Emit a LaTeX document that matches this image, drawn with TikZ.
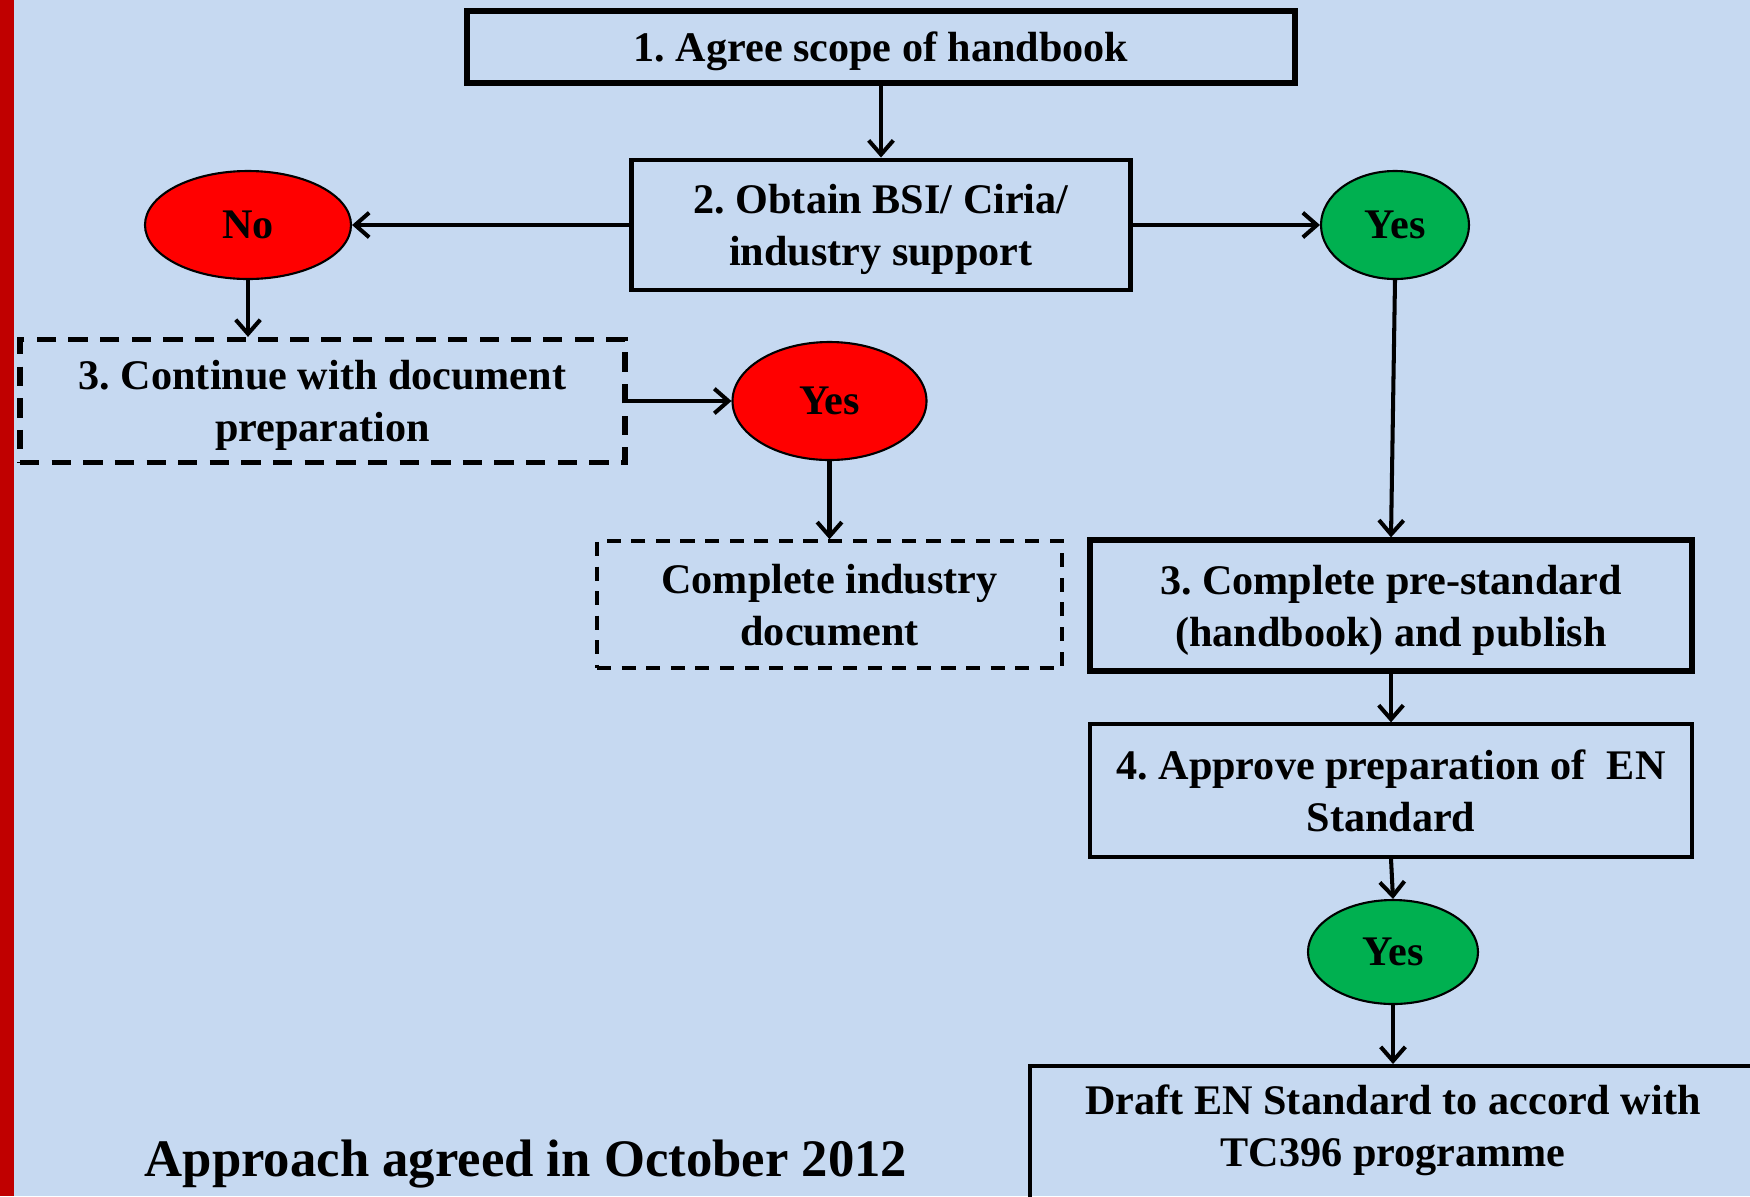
\documentclass[tikz,border=0pt]{standalone}
\usepackage{fontspec}
\setmainfont{Liberation Serif}
\frenchspacing
\usetikzlibrary{arrows.meta,positioning,shapes.geometric}
\definecolor{hbback}{HTML}{C6D9F1}
\definecolor{hbbar}{HTML}{C00000}
\definecolor{hbred}{HTML}{FF0000}
\definecolor{hbgreen}{HTML}{00B050}

\begin{document}
\begin{tikzpicture}[x=0.2mm, y=-0.2mm,
  stepbox/.style={draw=black, line width=3pt, align=center, inner sep=0pt, text depth=0pt,
                  font=\bfseries\fontsize{24}{29.6}\selectfont},
  thinbox/.style={stepbox, line width=1.9pt},
  dashbox/.style={stepbox, dash pattern=on 11pt off 7pt},
  thindash/.style={stepbox, line width=2pt, dash pattern=on 8pt off 6pt},
  answer/.style={ellipse, draw=black, line width=1.2pt, inner sep=0pt,
                 font=\bfseries\fontsize{24}{29.6}\selectfont},
  arr/.style={-{Straight Barb[length=8pt,width=14pt]}, line width=2.3pt},
]

% Page background and red margin bar
\fill[hbback] (0,0) rectangle (1750,1196);
\fill[hbbar] (0,0) rectangle (14,1196);
\useasboundingbox (0,0) rectangle (1750,1196);

% Steps
\node[stepbox, minimum width=165.6mm, minimum height=14.4mm] (scope) at (881,47) {1. Agree scope of handbook};
\node[stepbox, minimum width=99.8mm, minimum height=26mm, line width=2.8pt] (support) at (881,225) {2. Obtain BSI/ Ciria/\\industry support};
\node[dashbox, minimum width=121mm, minimum height=24.6mm] (cont) at (322.5,401) {3. Continue with document\\preparation};
\node[thindash, minimum width=93mm, minimum height=25.4mm] (indus) at (829.5,604.5) {Complete industry\\document};
\node[stepbox, minimum width=120.4mm, minimum height=26.2mm] (prestd) at (1391,605.5) {3. Complete pre-standard\\(handbook) and publish};
\node[thinbox, minimum width=120.4mm, minimum height=26.6mm] (approve) at (1391,790.5) {4. Approve preparation of~~EN\\Standard};
\node[thinbox, line width=2.2pt, anchor=north, minimum width=145.2mm, inner ysep=11pt, text depth=90pt] (draft) at (1393,1064) {Draft EN Standard to accord with\\TC396 programme};

% Decisions
\node[answer, fill=hbred, minimum width=41.2mm, minimum height=21.6mm] (no) at (248,225) {No};
\node[answer, fill=hbgreen, minimum width=29.6mm, minimum height=21.6mm] (yesg) at (1395,225) {Yes};
\node[answer, fill=hbred, minimum width=38.8mm, minimum height=23.6mm] (yesr) at (829.5,401) {Yes};
\node[answer, fill=hbgreen, minimum width=34mm, minimum height=20.8mm] (yesgb) at (1393,952) {Yes};

% Note
\node[font=\bfseries\fontsize{30}{36}\selectfont, text depth=0pt] (note) at (526,1158) {Approach agreed in October 2012};

% Connectors
\draw[arr] (scope.south) -- (support.north);
\draw[arr] (support.west) -- (no.east);
\draw[arr] (support.east) -- (yesg.west);
\draw[arr] (no.south) -- (no.south |- cont.north);
\draw[arr] (cont.east) -- (yesr.west);
\draw[arr] (yesr.south) -- (indus.north);
\draw[arr] (yesg.south) -- (prestd.north);
\draw[arr] (prestd.south) -- (approve.south |- approve.north);
\draw[arr] (approve.south) -- (yesgb.north);
\draw[arr] (yesgb.south) -- (yesgb.south |- draft.north);

\end{tikzpicture}
\end{document}
